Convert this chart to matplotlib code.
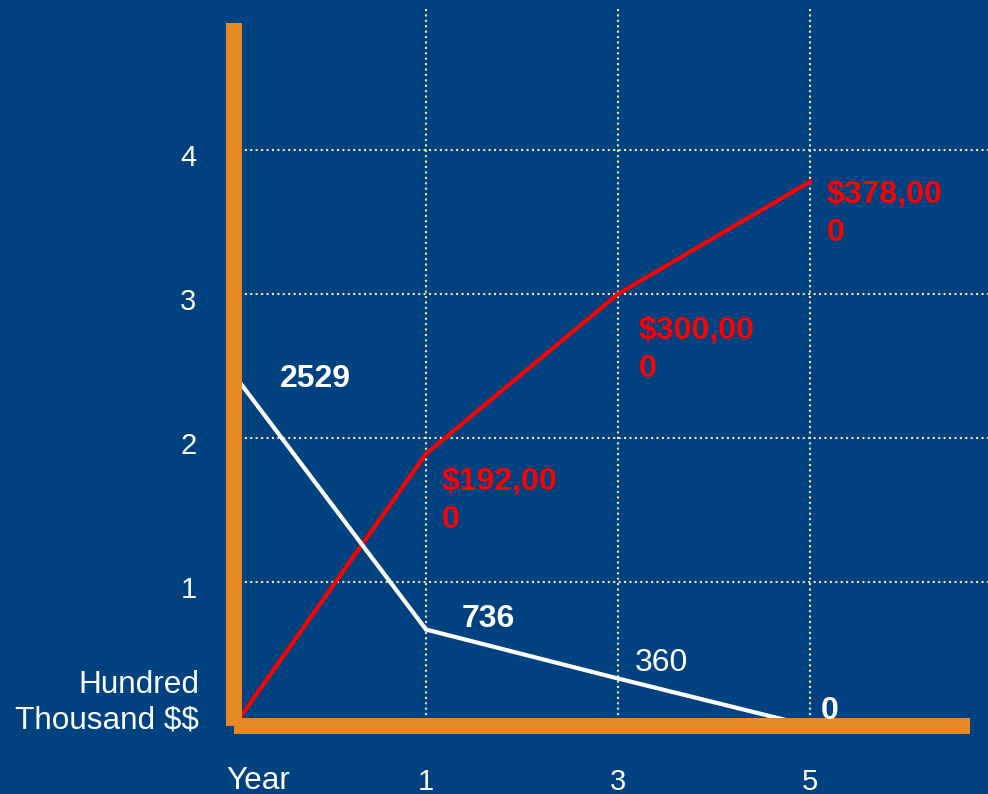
import matplotlib
matplotlib.use("Agg")
import matplotlib.pyplot as plt
from matplotlib.transforms import ScaledTranslation

plt.rcParams['font.family'] = ['Liberation Sans', 'DejaVu Sans']
plt.rcParams['text.parse_math'] = False

# ---- data ----
years = ['0', '1', '3', '5']
tick_labels = ['1', '3', '5']
revenue = [0.0, 1.89, 3.0, 3.78]          # hundred thousand $
revenue_labels = ['', '$192,00\n0', '$300,00\n0', '$378,00\n0']
units = [2.44, 0.67, 0.33, 0.0]
unit_labels = ['2529', '736', '360', '0']
unit_bold = [True, True, False, True]
y_ticks = [1, 2, 3, 4]

BG = '#004280'
ORANGE = '#E68826'
GRID = '#F0E4B0'
RED = '#FF0000'
WHITE = '#FFFFFF'

PX = 0.72  # px -> pt at 100 dpi

fig = plt.figure(figsize=(9.88, 7.94), dpi=100, facecolor=BG)
ax = fig.add_axes([234/988, 68/794, 754/988, 717/794], facecolor=BG)
ax.set_xlim(0, 754/192)
ax.set_ylim(0, 717/144)

x = list(range(len(years)))
ax.plot(x, revenue, color=RED, lw=3, solid_joinstyle='miter', zorder=2)
ax.plot(x, units, color=WHITE, lw=3, solid_joinstyle='miter', zorder=2)

# grid
ax.set_xticks(x[1:], tick_labels)
ax.set_yticks(y_ticks, [str(v) for v in y_ticks])
ax.grid(True, color=GRID, linestyle=(0, (1, 1.6)), linewidth=1.5)
ax.tick_params(axis='both', length=0, labelcolor=WHITE, labelsize=21)
ax.tick_params(axis='x', pad=30)
ax.tick_params(axis='y', pad=27)
shift = ScaledTranslation(0, -5/100, fig.dpi_scale_trans)
for lab in ax.get_yticklabels():
    lab.set_transform(lab.get_transform() + shift)

# spines as orange bars
for s in ['top', 'right']:
    ax.spines[s].set_visible(False)
ax.spines['left'].set_bounds(0, (726-23)/144)
ax.spines['bottom'].set_bounds(0, (970-234)/192)
for s in ['left', 'bottom']:
    ax.spines[s].set_color(ORANGE)
    ax.spines[s].set_linewidth(16*PX)
    ax.spines[s].set_capstyle('butt')

# data labels (offsets in px: dx right, dy down from the point to text top)
rev_off = [None, (16, 13), (21, 22), (17, -2)]
for i, (lab, off) in enumerate(zip(revenue_labels, rev_off)):
    if not lab:
        continue
    ax.annotate(lab, xy=(x[i], revenue[i]), xytext=(off[0]*PX, -off[1]*PX),
                textcoords='offset points', ha='left', va='top',
                color=RED, fontsize=23, fontweight='bold', linespacing=1.35,
                annotation_clip=False)

unit_off = [(46, -11), (36, -26), (17, -30), (11, -30)]
for i, (lab, off) in enumerate(zip(unit_labels, unit_off)):
    ax.annotate(lab, xy=(x[i], units[i]), xytext=(off[0]*PX, -off[1]*PX),
                textcoords='offset points', ha='left', va='top',
                color=WHITE, fontsize=23,
                fontweight='bold' if unit_bold[i] else 'normal',
                annotation_clip=False)

# axis captions
ax.annotate('Hundred\nThousand $$', xy=(0, 0), xytext=(-35*PX, 23*PX),
            textcoords='offset points', ha='right', va='center',
            multialignment='right', color=WHITE, fontsize=22.7, linespacing=1.25,
            annotation_clip=False)
ax.annotate('Year', xy=(0, 0), xytext=(-8*PX, -40*PX),
            textcoords='offset points', ha='left', va='top',
            color=WHITE, fontsize=22.7, annotation_clip=False)

fig.savefig('out.png', dpi=100, facecolor=BG)
